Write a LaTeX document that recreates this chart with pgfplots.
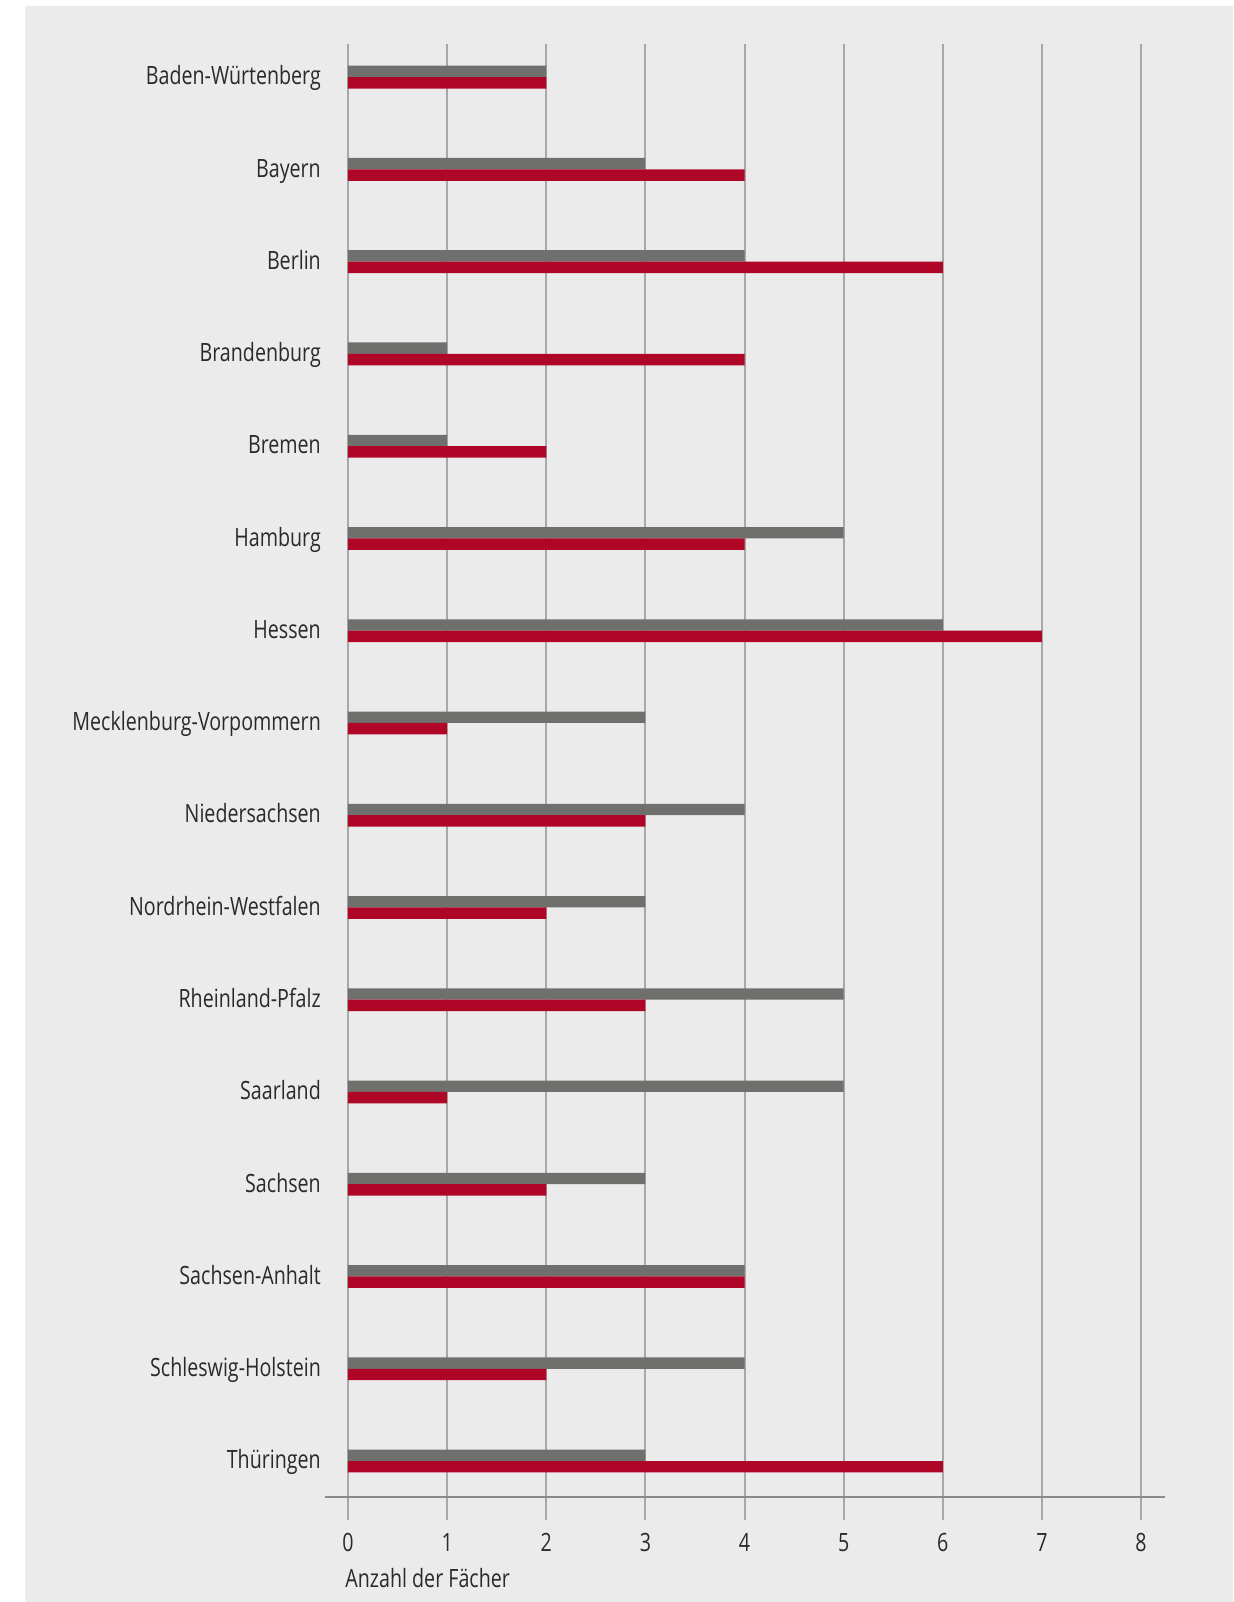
\documentclass[border=0pt]{standalone}
\usepackage{pgfplots}
\pgfplotsset{compat=1.18}
\usepackage{fontspec}
\setmainfont{Open Sans}[FakeStretch=0.78]
\definecolor{bg}{HTML}{EBEBEB}
\definecolor{bargrey}{HTML}{6F6F6D}
\definecolor{barred}{HTML}{AF0628}
\definecolor{gridgrey}{HTML}{A8A8A8}
\definecolor{axgrey}{HTML}{8A8A8A}
\definecolor{txt}{HTML}{2A2A2A}
\begin{document}
\begin{tikzpicture}
\fill[white] (0,0) rectangle (616.5pt,801pt);
\fill[bg] (12.5pt,0) rectangle (616.5pt,798pt);
\begin{axis}[
  at={(162.5pt,52.5pt)}, anchor=south west,
  scale only axis, width=420pt, height=726.5pt,
  xmin=-0.232, xmax=8.242, ymin=-0.39, ymax=15.359,
  axis x line*=bottom, axis y line*=left,
  x axis line style={draw=axgrey, line width=1pt},
  y axis line style={draw=none},
  xtick={0,...,8}, ytick={0,...,15},
  yticklabels={Thüringen,Schleswig-Holstein,Sachsen-Anhalt,Sachsen,Saarland,Rheinland-Pfalz,Nordrhein-Westfalen,Niedersachsen,Mecklenburg-Vorpommern,Hessen,Hamburg,Bremen,Brandenburg,Berlin,Bayern,Baden-Würtenberg},
  xmajorgrids, grid style={draw=gridgrey, line width=1pt},
  xtick style={draw=gridgrey, line width=1pt},
  ytick style={draw=none},
  tick align=outside, major tick length=11.5pt,
  /pgf/number format/assume math mode=true,
  xticklabel style={font=\fontsize{12.6}{15}\selectfont, text=txt, yshift=-3pt},
  yticklabel style={font=\fontsize{12.6}{15}\selectfont, text=txt, anchor=base east, inner sep=0pt, xshift=9.6pt, yshift=-3.9pt},
  xbar, bar width=5.7pt,
  clip=false,
]
\addplot[draw=none, fill=bargrey, bar shift=2.85pt] coordinates {
(2,15) (3,14) (4,13) (1,12) (1,11) (5,10) (6,9) (3,8) (4,7) (3,6) (5,5) (5,4) (3,3) (4,2) (4,1) (3,0)};
\addplot[draw=none, fill=barred, bar shift=-2.85pt] coordinates {
(2,15) (4,14) (6,13) (4,12) (2,11) (4,10) (7,9) (1,8) (3,7) (2,6) (3,5) (1,4) (2,3) (4,2) (2,1) (6,0)};
\node[anchor=west, inner sep=0pt, text=txt, font=\fontsize{12.6}{15}\selectfont] at (axis cs:-0.03,-0.39) [yshift=-40.5pt] {Anzahl der Fächer};
\end{axis}
\pgfresetboundingbox
\path[use as bounding box] (0,0) rectangle (616.5pt,801pt);
\end{tikzpicture}
\end{document}
